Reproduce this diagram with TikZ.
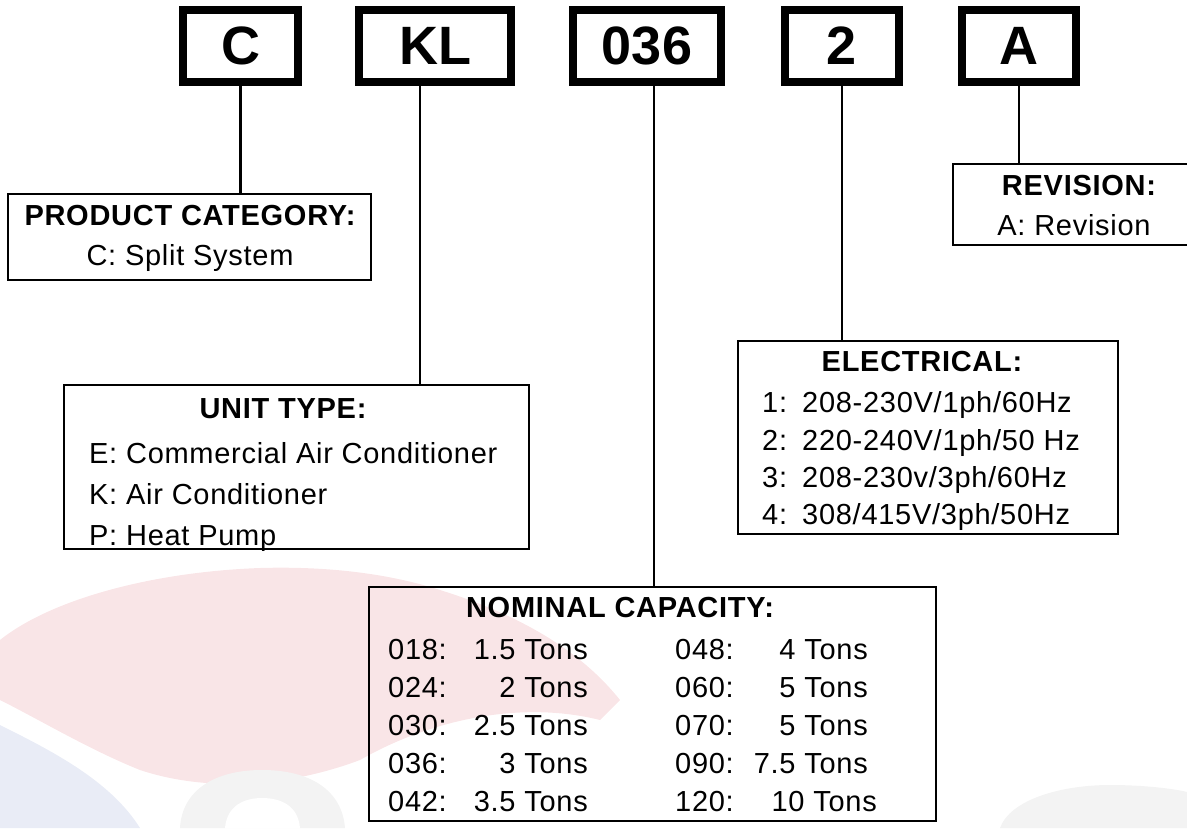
\documentclass[tikz,border=0pt]{standalone}
\usepackage{fontspec}
\setmainfont{Liberation Sans}[LetterSpace=2.5]
\definecolor{wmpink}{RGB}{249,229,231}
\definecolor{wmblue}{RGB}{233,236,246}
\definecolor{wmgray}{RGB}{243,243,243}
\tikzset{
  topbox/.style={draw, line width=8pt, inner sep=0pt, font=\fontsize{54}{60}\selectfont\bfseries\addfontfeatures{LetterSpace=0}},
  infobox/.style={draw, line width=2pt, inner sep=0pt},
  ttl/.style={anchor=base, inner sep=0pt, font=\fontsize{29}{32}\selectfont\bfseries},
  txt/.style={anchor=base west, inner sep=0pt, font=\fontsize{29}{32}\selectfont},
  txtc/.style={anchor=base, inner sep=0pt, font=\fontsize{29}{32}\selectfont},
  txtr/.style={anchor=base east, inner sep=0pt, font=\fontsize{29}{32}\selectfont},
  conn/.style={line width=2.2pt}
}
\begin{document}
\begin{tikzpicture}[x=1pt,y=-1pt]
\useasboundingbox (0,0) rectangle (1187,828);
% faint watermark
\fill[wmpink] (0,640) .. controls (50,600) and (150,572) .. (260,568)
  .. controls (330,566) and (390,574) .. (440,590)
  .. controls (520,615) and (580,650) .. (620,700)
  -- (600,720) .. controls (520,700) and (430,720) .. (360,760)
  .. controls (280,790) and (200,790) .. (140,770)
  .. controls (90,750) and (40,720) .. (0,700) -- cycle;
\fill[wmblue] (0,725) .. controls (50,750) and (110,780) .. (140,828) -- (0,828) -- cycle;
\fill[wmgray] (180,828) .. controls (182,790) and (215,770) .. (262,770)
  .. controls (310,770) and (342,790) .. (345,828) -- cycle;
\fill[white] (225,828) .. controls (227,805) and (245,798) .. (262,798)
  .. controls (280,798) and (298,805) .. (300,828) -- cycle;
\fill[wmgray] (1000,828) .. controls (1010,800) and (1060,785) .. (1110,785)
  .. controls (1150,785) and (1180,790) .. (1187,792) -- (1187,828) -- cycle;

% top code boxes
\node[topbox, minimum width=115pt, minimum height=72pt] (c)   at (240.5,46) {C};
\node[topbox, minimum width=152pt, minimum height=72pt] (kl)  at (435,46) {KL};
\node[topbox, minimum width=148pt, minimum height=72pt] (cap) at (647,46) {036};
\node[topbox, minimum width=114pt, minimum height=72pt] (el)  at (842,46) {2};
\node[topbox, minimum width=114pt, minimum height=72pt] (rv)  at (1019,46) {A};

% description boxes
\node[infobox, minimum width=363pt, minimum height=86pt]  (pc)  at (189.5,237) {};
\node[infobox, minimum width=465pt, minimum height=164pt] (ut)  at (296.5,467) {};
\node[infobox, minimum width=567pt, minimum height=234pt] (nc)  at (652.5,704) {};
\node[infobox, minimum width=380pt, minimum height=193pt] (ec)  at (928,437.5) {};
\node[infobox, minimum width=252pt, minimum height=81pt]  (rb)  at (1079,204.5) {};

% connectors
\draw[conn] (c.south) -- (c.south |- pc.north);
\coordinate (klx) at (420,86);
\draw[conn] (klx) -- (klx |- ut.north);
\coordinate (capx) at (654,86);
\draw[conn] (capx) -- (capx |- nc.north);
\draw[conn] (el.south) -- (el.south |- ec.north);
\draw[conn] (rv.south) -- (rv.south |- rb.north);

% product category
\node[ttl]  (pct) at (190,225) {PRODUCT CATEGORY:};
\node[txtc] (pc1) at (190,265) {C: Split System};

% unit type
\node[ttl] (utt) at (283,418) {UNIT TYPE:};
\node[txt] (ut1) at (89,463) {E: Commercial Air Conditioner};
\node[txt] (ut2) at (89,504) {K: Air Conditioner};
\node[txt] (ut3) at (89,545) {P: Heat Pump};

% revision
\node[ttl]  (rvt) at (1079,195) {REVISION:};
\node[txtc] (rv1) at (1074,235) {A: Revision};

% electrical
\node[ttl] (ect) at (922,371) {ELECTRICAL:};
\node[txt] (e1a) at (762,412) {1:};
\node[txt] (e1b) at (802,412) {208-230V/1ph/60Hz};
\node[txt] (e2a) at (762,450) {2:};
\node[txt] (e2b) at (802,450) {220-240V/1ph/50 Hz};
\node[txt] (e3a) at (762,487) {3:};
\node[txt] (e3b) at (802,487) {208-230v/3ph/60Hz};
\node[txt] (e4a) at (762,524) {4:};
\node[txt] (e4b) at (802,524) {308/415V/3ph/50Hz};

% nominal capacity
\node[ttl] (nct) at (620,617) {NOMINAL CAPACITY:};
\node[txt]  (n1a) at (388,659) {018:};  \node[txtr] (n1b) at (588,659) {1.5 Tons};
\node[txt]  (n2a) at (388,697) {024:};  \node[txtr] (n2b) at (588,697) {2 Tons};
\node[txt]  (n3a) at (388,735) {030:};  \node[txtr] (n3b) at (588,735) {2.5 Tons};
\node[txt]  (n4a) at (388,773) {036:};  \node[txtr] (n4b) at (588,773) {3 Tons};
\node[txt]  (n5a) at (388,811) {042:};  \node[txtr] (n5b) at (588,811) {3.5 Tons};
\node[txt]  (n6a) at (675,659) {048:};  \node[txtr] (n6b) at (868,659) {4 Tons};
\node[txt]  (n7a) at (675,697) {060:};  \node[txtr] (n7b) at (868,697) {5 Tons};
\node[txt]  (n8a) at (675,735) {070:};  \node[txtr] (n8b) at (868,735) {5 Tons};
\node[txt]  (n9a) at (675,773) {090:};  \node[txtr] (n9b) at (868,773) {7.5 Tons};
\node[txt]  (n0a) at (675,811) {120:};  \node[txtr] (n0b) at (877,811) {10 Tons};
\end{tikzpicture}
\end{document}
